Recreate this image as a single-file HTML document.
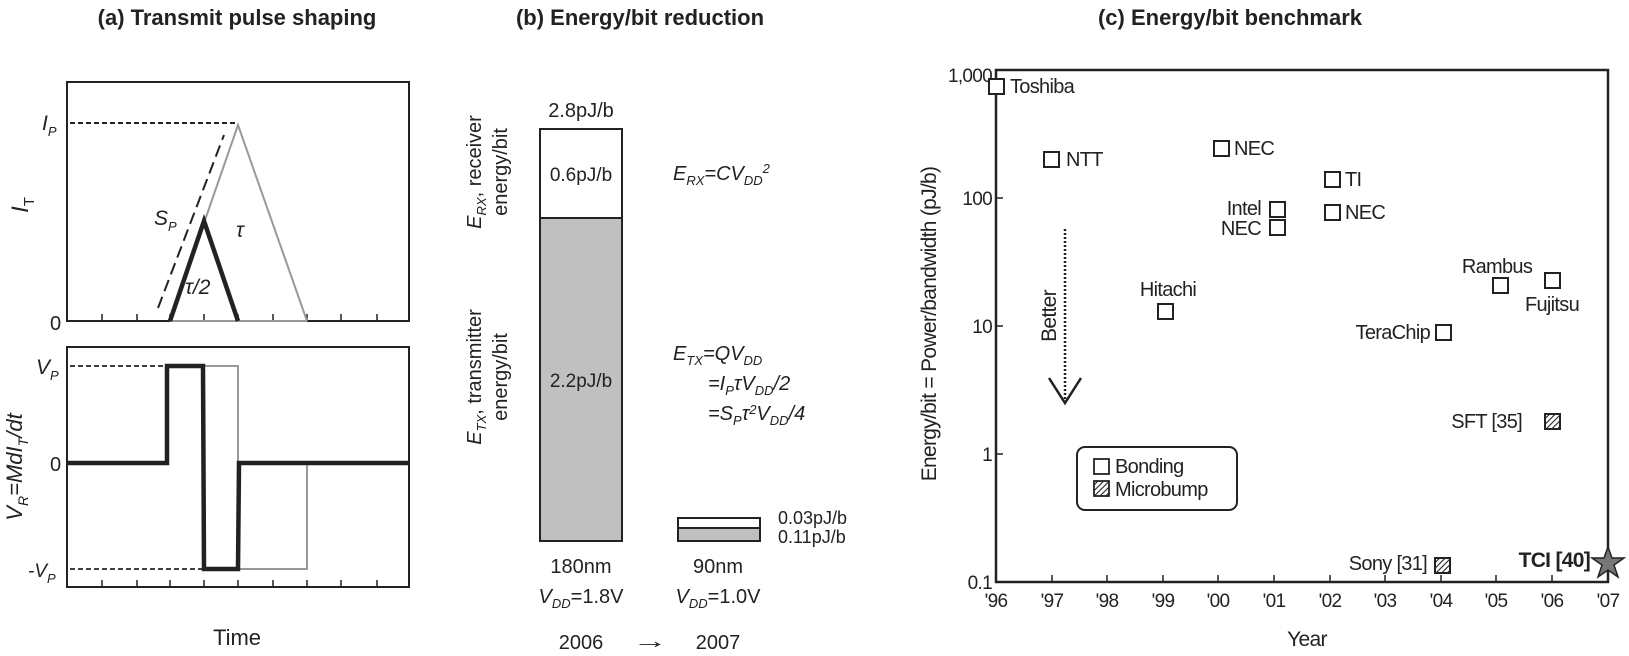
<!DOCTYPE html>
<html><head><meta charset="utf-8"><style>
body{margin:0;background:#fff}
svg text{font-family:"Liberation Sans",sans-serif;fill:#222}
.c text{letter-spacing:-0.7px}
</style></head><body>
<svg width="1629" height="651" viewBox="0 0 1629 651" xmlns="http://www.w3.org/2000/svg">
<defs>
<pattern id="hatch" width="4" height="4" patternUnits="userSpaceOnUse" patternTransform="rotate(45)">
<rect width="4" height="4" fill="#fff"/><line x1="0" y1="0" x2="0" y2="4" stroke="#222" stroke-width="2.2"/></pattern>
</defs>
<text x="237" y="25" font-size="22" font-weight="bold" text-anchor="middle">(a) Transmit pulse shaping</text>
<text x="640" y="25" font-size="22" font-weight="bold" text-anchor="middle">(b) Energy/bit reduction</text>
<text x="1230" y="25" font-size="22" font-weight="bold" text-anchor="middle">(c) Energy/bit benchmark</text>

<g fill="none" stroke="#222">
<rect x="67" y="82" width="342" height="239" stroke-width="2"/>
<rect x="67" y="347" width="342" height="240" stroke-width="2"/>
<path d="M102 321v-7M137 321v-7M170 321v-7M204 321v-7M238 321v-7M273 321v-7M307 321v-7M341 321v-7M377 321v-7" stroke-width="1.5"/>
<path d="M102 587v-7M137 587v-7M170 587v-7M204 587v-7M238 587v-7M273 587v-7M307 587v-7M341 587v-7M377 587v-7" stroke-width="1.5"/>
<line x1="70" y1="123" x2="237" y2="123" stroke-dasharray="5,3" stroke-width="2"/>
<line x1="70" y1="366" x2="166" y2="366" stroke-dasharray="5,3" stroke-width="1.8"/>
<line x1="70" y1="569" x2="204" y2="569" stroke-dasharray="5,3" stroke-width="1.8"/>
<polyline points="170,321 238,125 307,321" stroke="#999" stroke-width="2"/>
<line x1="170" y1="321" x2="307" y2="321" stroke="#999" stroke-width="2"/>
<polyline points="170,321 204,221 238,321" stroke-width="4.5"/>
<line x1="158" y1="308" x2="224" y2="135" stroke-dasharray="12,6" stroke-width="2"/>
<polyline points="204,366 238,366 238,569 307,569 307,463" stroke="#999" stroke-width="2"/>
<polyline points="68,463 167,463 167,366 203,366 204,569 238,569 239,463 408,463" stroke-width="4.5"/>
</g>
<text x="28" y="205" font-size="24" text-anchor="middle" transform="rotate(-90 28 205)" font-style="italic">I<tspan font-size="15" dy="6" font-style="normal">T</tspan></text>
<text x="42" y="130" font-size="21" font-style="italic">I<tspan font-size="13" dy="6">P</tspan></text>
<text x="50" y="330" font-size="20">0</text>
<text x="36" y="374" font-size="21" font-style="italic">V<tspan font-size="13" dy="6">P</tspan></text>
<text x="50" y="471" font-size="20">0</text>
<text x="28" y="577" font-size="19" font-style="italic">-V<tspan font-size="13" dy="6">P</tspan></text>
<text x="22" y="467" font-size="22" text-anchor="middle" transform="rotate(-90 22 467)" font-style="italic">V<tspan font-size="14" dy="6">R</tspan><tspan dy="-6">=MdI</tspan><tspan font-size="14" dy="6">T</tspan><tspan dy="-6">/dt</tspan></text>
<text x="154" y="225" font-size="21" font-style="italic">S<tspan font-size="13" dy="6">P</tspan></text>
<text x="236" y="237" font-size="21" font-style="italic">τ</text>
<text x="185" y="294" font-size="21" font-style="italic">τ/2</text>
<text x="237" y="645" font-size="22" text-anchor="middle">Time</text>

<rect x="540" y="129" width="82" height="412" fill="#c0c0c0" stroke="#222" stroke-width="2"/>
<rect x="540" y="129" width="82" height="89" fill="#fff" stroke="#222" stroke-width="2"/>
<rect x="678" y="518" width="82" height="23" fill="#c0c0c0" stroke="#222" stroke-width="2"/>
<rect x="678" y="518" width="82" height="10" fill="#fff" stroke="#222" stroke-width="2"/>
<text x="581" y="117" font-size="20" text-anchor="middle">2.8pJ/b</text>
<text x="581" y="181" font-size="19" text-anchor="middle">0.6pJ/b</text>
<text x="581" y="387" font-size="19" text-anchor="middle">2.2pJ/b</text>
<g font-size="20" text-anchor="middle">
<text transform="translate(481 172) rotate(-90)" x="0" y="0"><tspan font-style="italic">E</tspan><tspan font-size="13" dy="5" font-style="italic">RX</tspan><tspan dy="-5">, receiver</tspan></text>
<text transform="translate(507 172) rotate(-90)" x="0" y="0">energy/bit</text>
<text transform="translate(481 377) rotate(-90)" x="0" y="0"><tspan font-style="italic">E</tspan><tspan font-size="13" dy="5" font-style="italic">TX</tspan><tspan dy="-5">, transmitter</tspan></text>
<text transform="translate(507 377) rotate(-90)" x="0" y="0">energy/bit</text>
</g>
<g font-size="20" font-style="italic">
<text x="673" y="180">E<tspan font-size="13" dy="5">RX</tspan><tspan dy="-5">=CV</tspan><tspan font-size="13" dy="5">DD</tspan><tspan font-size="13" dy="-12">2</tspan></text>
<text x="673" y="360">E<tspan font-size="13" dy="5">TX</tspan><tspan dy="-5">=QV</tspan><tspan font-size="13" dy="5">DD</tspan></text>
<text x="708" y="390">=I<tspan font-size="13" dy="5">P</tspan><tspan dy="-5">τV</tspan><tspan font-size="13" dy="5">DD</tspan><tspan dy="-5">/2</tspan></text>
<text x="708" y="420">=S<tspan font-size="13" dy="5">P</tspan><tspan dy="-5">τ</tspan><tspan font-size="13" dy="-6">2</tspan><tspan dy="6">V</tspan><tspan font-size="13" dy="5">DD</tspan><tspan dy="-5">/4</tspan></text>
</g>
<text x="778" y="524" font-size="18">0.03pJ/b</text>
<text x="778" y="543" font-size="18">0.11pJ/b</text>
<g font-size="20" text-anchor="middle">
<text x="581" y="573">180nm</text>
<text x="581" y="603"><tspan font-style="italic">V</tspan><tspan font-size="13" dy="5" font-style="italic">DD</tspan><tspan dy="-5">=1.8V</tspan></text>
<text x="718" y="573">90nm</text>
<text x="718" y="603"><tspan font-style="italic">V</tspan><tspan font-size="13" dy="5" font-style="italic">DD</tspan><tspan dy="-5">=1.0V</tspan></text>
<text x="581" y="649">2006</text>
<text x="718" y="649">2007</text>
</g>
<text x="650" y="648" font-size="22" text-anchor="middle" transform="translate(650 0) scale(1.6 1) translate(-650 0)">→</text>

<g class="c">
<rect x="996" y="70" width="612" height="512" fill="none" stroke="#222" stroke-width="2.5"/>
<g stroke="#222" stroke-width="1.5">
<path d="M996 70h7M996 198h7M996 326h7M996 454h7"/>
<path d="M1052 582v-7M1107 582v-7M1163 582v-7M1218 582v-7M1274 582v-7M1330 582v-7M1385 582v-7M1441 582v-7M1496 582v-7M1552 582v-7"/>
</g>
<g font-size="19" text-anchor="end">
<text x="992" y="82">1,000</text><text x="992" y="205">100</text><text x="992" y="333">10</text><text x="992" y="461">1</text><text x="992" y="589">0.1</text>
</g>
<g font-size="19" text-anchor="middle">
<text x="996" y="607">'96</text><text x="1052" y="607">'97</text><text x="1107" y="607">'98</text><text x="1163" y="607">'99</text><text x="1218" y="607">'00</text><text x="1274" y="607">'01</text><text x="1330" y="607">'02</text><text x="1385" y="607">'03</text><text x="1441" y="607">'04</text><text x="1496" y="607">'05</text><text x="1552" y="607">'06</text><text x="1608" y="607">'07</text>
</g>
<text x="1307" y="646" font-size="21" text-anchor="middle">Year</text>
<text transform="translate(936 324) rotate(-90)" font-size="21" text-anchor="middle">Energy/bit = Power/bandwidth (pJ/b)</text>
<g fill="#fff" stroke="#222" stroke-width="2">
<rect x="989" y="79" width="15" height="15"/>
<rect x="1044" y="152" width="15" height="15"/>
<rect x="1214" y="141" width="15" height="15"/>
<rect x="1325" y="172" width="15" height="15"/>
<rect x="1325" y="205" width="15" height="15"/>
<rect x="1270" y="202" width="15" height="15"/>
<rect x="1270" y="220" width="15" height="15"/>
<rect x="1158" y="304" width="15" height="15"/>
<rect x="1436" y="325" width="15" height="15"/>
<rect x="1493" y="278" width="15" height="15"/>
<rect x="1545" y="273" width="15" height="15"/>
<rect x="1545" y="414" width="15" height="15" fill="url(#hatch)"/>
<rect x="1435" y="558" width="15" height="15" fill="url(#hatch)"/>
</g>
<polygon points="1608,547 1612,558 1624,558 1614,565 1618,577 1608,570 1598,577 1602,565 1592,558 1604,558" fill="#777" stroke="#222" stroke-width="1.5"/>
<g font-size="20">
<text x="1010" y="93">Toshiba</text>
<text x="1066" y="166">NTT</text>
<text x="1234" y="155">NEC</text>
<text x="1345" y="186">TI</text>
<text x="1345" y="219">NEC</text>
<text x="1261" y="215" text-anchor="end">Intel</text>
<text x="1261" y="235" text-anchor="end">NEC</text>
<text x="1168" y="296" text-anchor="middle">Hitachi</text>
<text x="1430" y="339" text-anchor="end">TeraChip</text>
<text x="1497" y="273" text-anchor="middle">Rambus</text>
<text x="1552" y="311" text-anchor="middle">Fujitsu</text>
<text x="1522" y="428" text-anchor="end">SFT [35]</text>
<text x="1427" y="570" text-anchor="end">Sony [31]</text>
<text x="1590" y="567" text-anchor="end" font-weight="bold" font-size="21">TCI [40]</text>
</g>
<line x1="1065" y1="229" x2="1065" y2="400" stroke="#222" stroke-width="2.5" stroke-dasharray="2,2"/>
<polyline points="1049,378 1065,403 1081,378" fill="none" stroke="#222" stroke-width="2.5"/>
<text transform="translate(1056 316) rotate(-90)" font-size="21" text-anchor="middle">Better</text>
<rect x="1077" y="447" width="160" height="63" rx="8" fill="#fff" stroke="#222" stroke-width="2"/>
<rect x="1094" y="459" width="15" height="15" fill="#fff" stroke="#222" stroke-width="1.8"/>
<rect x="1094" y="481" width="15" height="15" fill="url(#hatch)" stroke="#222" stroke-width="1.8"/>
<text x="1115" y="473" font-size="20">Bonding</text>
<text x="1115" y="496" font-size="20">Microbump</text>
</g>
</svg>
</body></html>
